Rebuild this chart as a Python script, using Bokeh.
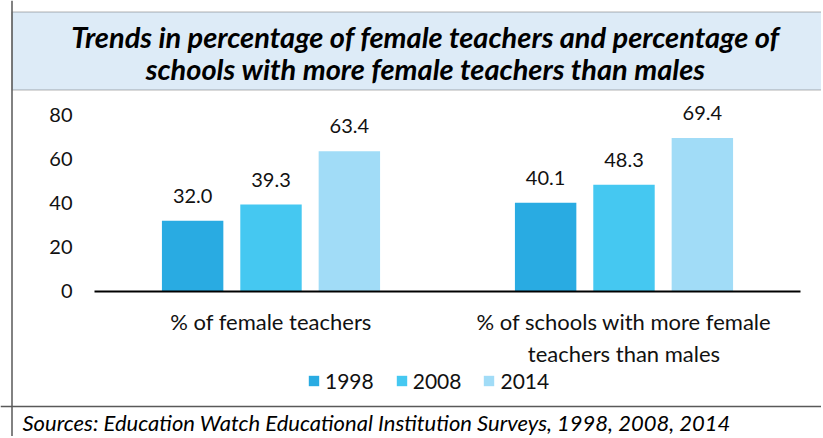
from bokeh.plotting import figure
from bokeh.models import ColumnDataSource, Range1d, BoxAnnotation, Span, Legend, LegendItem, Label
from bokeh.transform import dodge
from bokeh.core.properties import value
from bokeh.embed import file_html
from bokeh.resources import INLINE

# ---------------- data ----------------
categories = ["% of female teachers", "% of schools with more female\nteachers than males"]
years = ["1998", "2008", "2014"]
values_1998 = [32.0, 40.1]
values_2008 = [39.3, 48.3]
values_2014 = [63.4, 69.4]
y_ticks = [0, 20, 40, 60, 80]
title_text = "Trends in percentage of female teachers and percentage of\nschools with more female teachers than males"
source_text = "Sources: Education Watch Educational Institution Surveys, 1998, 2008, 2014"

# ---------------- style ----------------
colors = ["#29ABE2", "#45C8F1", "#A1DCF7"]
FONT = "Lato"
W, H = 821, 436
BAR_W = 0.174
OFFSETS = [-0.222, 0.0, 0.222]
BAND_COLOR = "#DDEBF7"
LINE_COLOR = "#595959"
NUM_SIZE = "20px"
TXT_SIZE = "22px"

xs = list(range(len(categories)))
series = [values_1998, values_2008, values_2014]
data = {"x": xs}
for yr, vals in zip(years, series):
    data["v" + yr] = vals
    data["t" + yr] = [f"{v:.1f}" for v in vals]
src = ColumnDataSource(data)

p = figure(width=W, height=H, x_range=Range1d(-0.7663, 1.5595), y_range=Range1d(-65.54, 131.53),
           output_backend="svg", toolbar_location=None, min_border=0,
           x_axis_location=None, y_axis_location=None, outline_line_color=None)
p.grid.visible = False

renderers = []
for yr, col, off in zip(years, colors, OFFSETS):
    r = p.vbar(x=dodge("x", off), top="v" + yr, width=BAR_W, source=src,
               fill_color=col, line_color=None)
    renderers.append(r)
    p.text(x=dodge("x", off), y="v" + yr, text="t" + yr, source=src,
           text_align="center", text_baseline="middle", y_offset=-25,
           text_font=value(FONT), text_font_size=NUM_SIZE, text_color="#111111")

# baseline
p.segment(x0=[xs[0] - 0.5], y0=[0], x1=[xs[-1] + 0.5], y1=[0], line_color="black", line_width=2)

# y tick labels
p.text(x=[xs[0] - 0.5] * len(y_ticks), y=y_ticks, text=[str(t) for t in y_ticks],
       text_align="right", text_baseline="middle", x_offset=-22,
       text_font=value(FONT), text_font_size=NUM_SIZE, text_color="#111111")

# category labels
p.text(x=xs, y=[0] * len(xs), text=categories, text_align="center", text_baseline="top",
       y_offset=17, text_line_height=1.15,
       text_font=value(FONT), text_font_size=TXT_SIZE, text_color="#111111")

# title band
p.add_layout(BoxAnnotation(left=11.5, right=W + 10, top=H - 11.5, bottom=H - 89.5,
                           left_units="screen", right_units="screen",
                           top_units="screen", bottom_units="screen",
                           fill_color=BAND_COLOR, fill_alpha=1.0,
                           line_color=LINE_COLOR, line_width=1.5))
for i, line in enumerate(title_text.split("\n")):
    p.add_layout(Label(x=425, y=H - 36 - 32 * i, x_units="screen", y_units="screen", text=line,
                       text_align="center", text_baseline="middle",
                       text_font=FONT, text_font_size="29px", text_font_style="bold italic",
                       text_color="#000000"))

# outer border and separator
p.add_layout(Span(location=11.5, location_units="screen", dimension="height",
                  line_color=LINE_COLOR, line_width=1.5))
p.add_layout(Span(location=H - 406, location_units="screen", dimension="width",
                  line_color=LINE_COLOR, line_width=1.5))

# source
p.add_layout(Label(x=22, y=H - 422, x_units="screen", y_units="screen", text=source_text,
                   text_align="left", text_baseline="middle",
                   text_font=FONT, text_font_size="22px", text_font_style="italic",
                   text_color="#000000"))

# legend
legend = Legend(items=[LegendItem(label=yr, renderers=[r]) for yr, r in zip(years, renderers)],
                orientation="horizontal", location=(307, 43),
                background_fill_alpha=0, border_line_color=None, padding=0, margin=0,
                spacing=21, label_standoff=5, glyph_width=13, glyph_height=13,
                label_height=24, label_text_font=FONT, label_text_font_size="21px",
                label_text_color="#111111")
p.add_layout(legend)

open("out.html", "w").write(file_html(p, INLINE))
